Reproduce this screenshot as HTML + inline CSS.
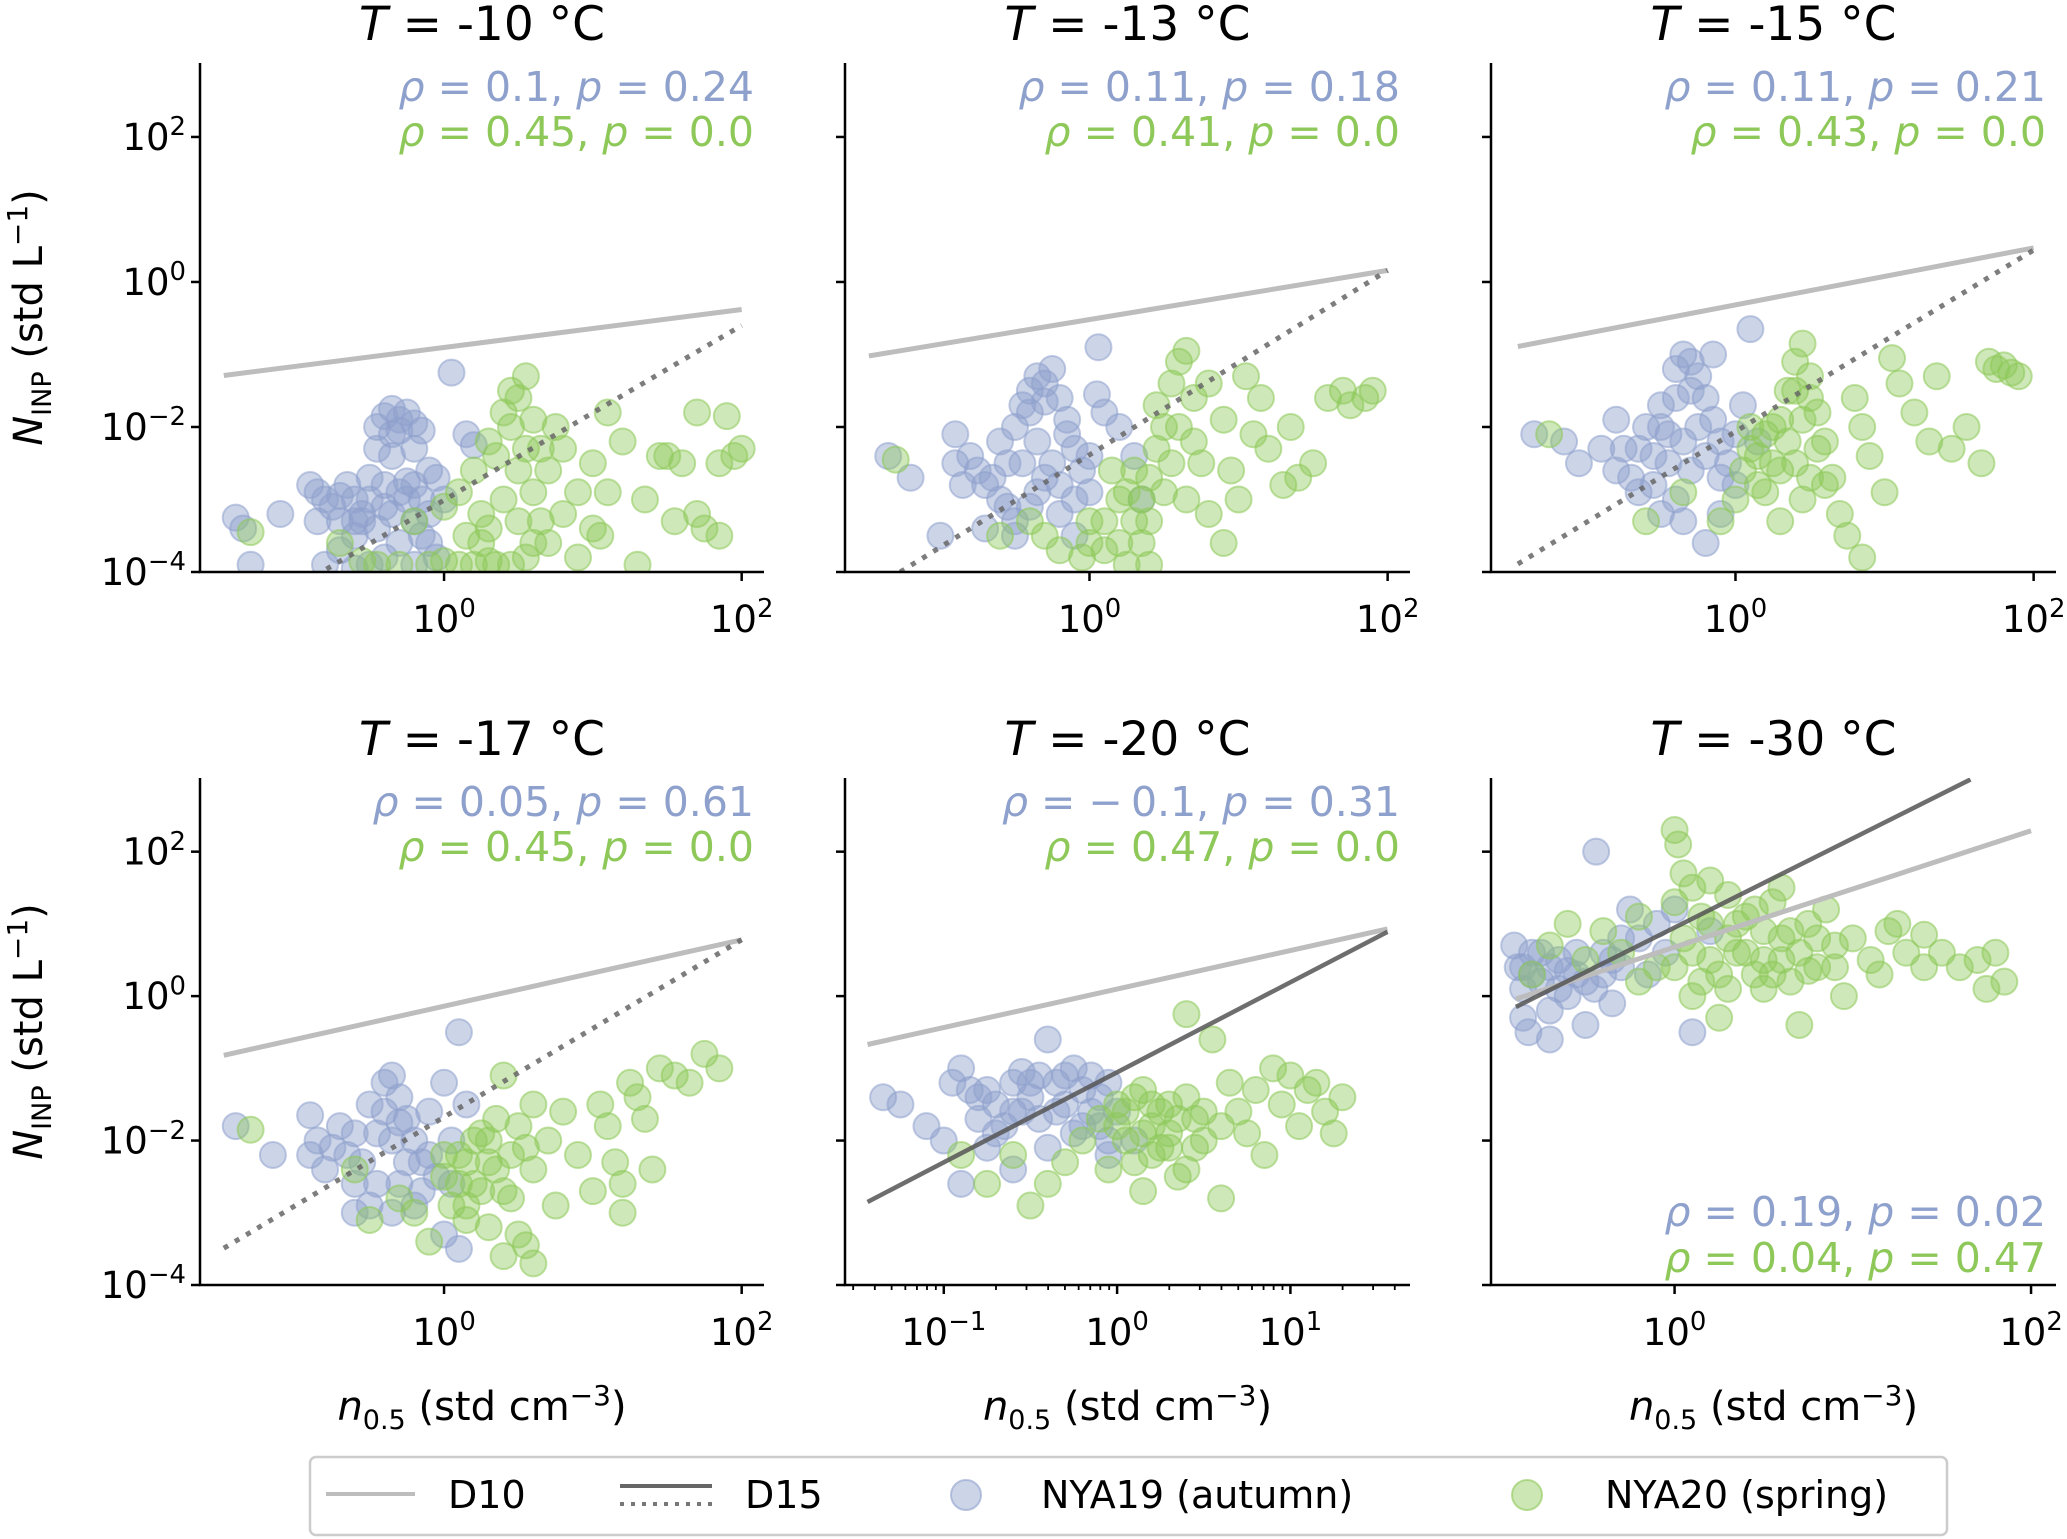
<!DOCTYPE html>
<html><head><meta charset="utf-8"><style>
html,body{margin:0;padding:0;background:#fff;}
svg{display:block;font-family:"DejaVu Sans","Liberation Sans",sans-serif;}
</style></head><body>
<svg id="chart" width="2067" height="1539" viewBox="0 0 2067 1539" xmlns="http://www.w3.org/2000/svg">
<defs>
<clipPath id="c0"><rect x="200" y="63" width="564" height="509"/></clipPath>
<clipPath id="c1"><rect x="845" y="63" width="565" height="509"/></clipPath>
<clipPath id="c2"><rect x="1491" y="63" width="565" height="509"/></clipPath>
<clipPath id="c3"><rect x="200" y="778" width="564" height="507"/></clipPath>
<clipPath id="c4"><rect x="845" y="778" width="565" height="507"/></clipPath>
<clipPath id="c5"><rect x="1491" y="778" width="565" height="507"/></clipPath>
</defs>
<g id="root"></g>
<g>
<rect x="310" y="1457" width="1637" height="78" rx="6" fill="#fff" stroke="#ccc" stroke-width="2.5"/>
<line x1="326" y1="1494" x2="415" y2="1494" stroke="#bdbdbd" stroke-width="4"/>
<text x="448" y="1508" font-size="38">D10</text>
<line x1="620" y1="1486" x2="712" y2="1486" stroke="#666" stroke-width="4"/>
<line x1="620" y1="1504" x2="712" y2="1504" stroke="#777" stroke-width="4" stroke-dasharray="4,7"/>
<text x="745" y="1508" font-size="38">D15</text>
<circle cx="966" cy="1495" r="15" fill="#8ea0cc" fill-opacity="0.45" stroke="#8ea0cc" stroke-opacity="0.6" stroke-width="2"/>
<text x="1041" y="1508" font-size="38">NYA19 (autumn)</text>
<circle cx="1527" cy="1495" r="15" fill="#8dc858" fill-opacity="0.45" stroke="#8dc858" stroke-opacity="0.6" stroke-width="2"/>
<text x="1605" y="1508" font-size="38">NYA20 (spring)</text>
</g>
</svg>
<script>
// ---- data (log10 units) ----
const temps = ["-10","-13","-15","-17","-20","-30"];
const rhoBlue = ["0.1","0.11","0.11","0.05","\u2212\u20090.1","0.19"];
const pBlue = ["0.24","0.18","0.21","0.61","0.31","0.02"];
const rhoGreen = ["0.45","0.41","0.43","0.45","0.47","0.04"];
const pGreen = ["0.0","0.0","0.0","0.0","0.0","0.47"];
const d10 = [[-1.48,-1.29,2,-0.38],[-1.48,-1.02,2,0.16],[-1.46,-0.89,2,0.47],[-1.48,-0.82,2,0.78],[-1.44,-0.67,1.56,0.93],[-0.89,-0.04,2,2.29]];
const d15 = [[-0.79,-3.96,2,-0.6],[-1.27,-4.0,2,0.16],[-1.46,-3.89,2,0.44],[-1.48,-3.49,2,0.78],[-1.44,-2.85,1.56,0.89],[-0.89,-0.15,1.66,3.0]];
const d15Dotted = [true,true,true,true,false,false];
const blue1=[[-1.4,-3.25],[-1.35,-3.4],[-1.1,-3.2],[-1.3,-3.9],[-0.85,-2.9],[-0.8,-3.0],[-0.75,-3.1],[-0.7,-2.95],[-0.6,-3.0],[-0.55,-3.2],[-0.5,-2.7],[-0.45,-2.0],[-0.4,-1.85],[-0.35,-2.1],[-0.3,-1.9],[-0.25,-1.8],[-0.2,-2.3],[-0.15,-2.05],[-0.1,-2.6],[-0.3,-2.9],[-0.4,-3.1],[-0.2,-3.3],[-0.6,-3.5],[-0.7,-3.7],[-0.5,-3.9],[-0.3,-3.6],[-0.1,-3.2],[0,-3.0],[-0.05,-3.8],[0.15,-2.1],[0.2,-2.25],[0.05,-1.25],[-0.8,-3.9],[-0.6,-3.95],[-0.35,-2.4],[-0.25,-2.75],[-0.55,-3.3],[-0.15,-3.5],
[-0.9,-2.8],[-0.85,-3.3],[-0.65,-2.8],[-0.6,-3.3],[-0.5,-3.0],[-0.45,-3.4],[-0.4,-2.8],[-0.35,-3.2],[-0.25,-3.0],[-0.2,-2.8],[-0.15,-3.0],[-0.05,-2.7],[-0.1,-3.6],[-0.4,-3.8],[-0.2,-3.9],[-0.7,-3.3],[-0.3,-2.05],[-0.2,-1.95],[-0.35,-1.75],[-0.45,-2.3]];
const green1=[[-1.3,-3.45],[-0.7,-3.6],[-0.55,-3.85],[-0.45,-3.9],[-0.3,-3.9],[-0.1,-3.9],[0,-3.85],[0.1,-3.9],[0.2,-3.9],[0.3,-3.85],[0.35,-3.9],[0.45,-3.9],[0.55,-3.8],[-0.2,-3.3],[0,-3.1],[0.1,-2.9],[0.2,-2.6],[0.3,-3.4],[0.35,-2.4],[0.4,-1.8],[0.45,-1.5],[0.5,-1.6],[0.55,-2.3],[0.6,-2.9],[0.7,-3.6],[0.75,-2.0],[0.8,-3.2],[0.9,-3.8],[1.0,-2.5],[1.05,-3.5],[1.1,-1.8],[1.2,-2.2],[1.3,-3.9],[1.35,-3.0],[1.45,-2.4],[1.5,-2.4],[1.6,-2.5],[1.55,-3.3],[1.7,-3.2],[1.75,-3.4],[1.85,-3.5],[1.9,-1.85],[1.85,-2.5],[1.95,-2.4],[1.7,-1.8],[2.0,-2.3],[0.25,-3.6],[0.65,-3.3],
[0.4,-3.0],[0.5,-3.3],[0.6,-3.6],[0.3,-2.2],[0.45,-2.0],[0.55,-1.3],[0.6,-1.9],[0.7,-2.6],[0.25,-3.2],[0.15,-3.5],[0.8,-2.3],[0.9,-2.9],[1.0,-3.4],[1.1,-2.9],[0.5,-2.6],[0.65,-2.3]];
const blue2=[[-1.35,-2.4],[-1.2,-2.7],[-1.0,-3.5],[-0.9,-2.1],[-0.8,-2.4],[-0.75,-2.6],[-0.7,-2.8],[-0.6,-2.2],[-0.55,-2.5],[-0.5,-2.0],[-0.45,-1.7],[-0.4,-1.5],[-0.35,-1.3],[-0.3,-1.4],[-0.25,-1.2],[-0.2,-1.6],[-0.15,-1.9],[-0.1,-2.3],[-0.05,-2.6],[0,-2.9],[-0.3,-2.7],[-0.4,-3.1],[-0.6,-3.0],[-0.7,-3.4],[-0.2,-3.2],[-0.1,-3.5],[0.05,-1.55],[0.1,-1.8],[0.2,-2.0],[0.06,-0.9],[0.3,-2.4],[0.35,-3.0],[-0.5,-3.3],
[-0.9,-2.5],[-0.85,-2.8],[-0.65,-2.7],[-0.55,-3.1],[-0.45,-2.5],[-0.35,-2.2],[-0.25,-2.5],[-0.2,-2.8],[-0.1,-3.0],[-0.4,-1.8],[-0.3,-1.65],[-0.35,-2.9],[-0.15,-2.1],[0,-2.4],[-0.5,-3.5]];
const green2=[[-1.3,-2.45],[-0.6,-3.5],[-0.3,-3.5],[-0.2,-3.7],[-0.05,-3.8],[0.1,-3.7],[0.2,-3.6],[0.3,-3.3],[0.35,-3.0],[0.4,-2.7],[0.45,-2.3],[0.5,-2.0],[0.55,-1.4],[0.6,-1.1],[0.65,-0.95],[0.7,-1.6],[0.75,-2.5],[0.8,-3.2],[0.9,-1.9],[0.95,-2.6],[1.0,-3.0],[1.05,-1.3],[1.1,-2.1],[1.15,-1.6],[1.2,-2.3],[1.3,-2.8],[1.35,-2.0],[1.4,-2.7],[1.5,-2.5],[1.6,-1.6],[1.7,-1.5],[1.75,-1.7],[1.85,-1.6],[1.9,-1.5],[0.25,-2.9],[0.4,-3.9],[0.15,-2.6],[-0.4,-3.3],[0.0,-3.3],[0.9,-3.6],
[0.1,-3.3],[0.2,-3.0],[0.3,-2.6],[0.4,-3.3],[0.5,-2.9],[0.55,-2.5],[0.6,-2.0],[0.65,-3.0],[0.35,-3.6],[0.7,-2.2],[0.8,-1.4],[0.0,-3.6],[0.25,-3.9],[0.45,-1.7]];
const blue3=[[-1.35,-2.1],[-1.15,-2.2],[-1.05,-2.5],[-0.8,-1.9],[-0.75,-2.3],[-0.7,-2.7],[-0.6,-2.0],[-0.55,-2.4],[-0.5,-1.7],[-0.45,-2.1],[-0.4,-1.2],[-0.35,-1.0],[-0.3,-1.1],[-0.25,-1.3],[-0.2,-1.6],[-0.15,-1.9],[-0.1,-2.2],[-0.05,-2.5],[0,-2.8],[-0.3,-2.6],[-0.4,-3.0],[-0.5,-3.2],[-0.2,-3.6],[-0.15,-1.0],[0.05,-1.7],[0.1,-0.65],[0.15,-2.2],[-0.65,-2.9],[-0.1,-3.2],
[-0.9,-2.3],[-0.8,-2.6],[-0.65,-2.3],[-0.55,-2.8],[-0.45,-2.5],[-0.35,-2.2],[-0.25,-2.0],[-0.2,-2.4],[-0.3,-1.5],[-0.4,-1.6],[-0.5,-2.0],[-0.1,-2.7],[-0.35,-3.3],[0,-2.1]];
const green3=[[-1.25,-2.1],[-0.6,-3.3],[-0.35,-2.9],[-0.1,-3.3],[0,-3.0],[0.05,-2.6],[0.1,-2.3],[0.15,-2.8],[0.2,-2.1],[0.25,-2.5],[0.3,-1.9],[0.35,-1.5],[0.4,-1.1],[0.45,-0.85],[0.5,-1.3],[0.55,-1.8],[0.6,-2.2],[0.65,-2.7],[0.7,-3.2],[0.75,-3.5],[0.8,-1.6],[0.85,-2.0],[0.9,-2.4],[1.0,-2.9],[1.1,-1.4],[1.2,-1.8],[1.3,-2.2],[1.35,-1.3],[1.45,-2.3],[1.55,-2.0],[1.65,-2.5],[1.7,-1.1],[1.75,-1.2],[1.8,-1.15],[1.85,-1.25],[1.9,-1.3],[0.85,-3.8],[0.3,-3.3],[1.05,-1.05],[0.45,-3.0],
[0.15,-2.4],[0.25,-2.0],[0.3,-2.6],[0.35,-2.2],[0.4,-2.5],[0.45,-1.9],[0.5,-2.7],[0.55,-2.3],[0.6,-2.8],[0.4,-1.5],[0.2,-2.9],[0.1,-2.0],[0.5,-1.6]];
const blue4=[[-1.4,-1.8],[-1.15,-2.2],[-0.9,-1.65],[-0.85,-2.0],[-0.8,-2.4],[-0.7,-1.8],[-0.65,-2.2],[-0.6,-2.6],[-0.5,-1.5],[-0.45,-1.9],[-0.4,-1.2],[-0.35,-1.1],[-0.3,-1.4],[-0.25,-1.7],[-0.2,-2.0],[-0.15,-2.3],[-0.1,-1.6],[-0.05,-2.5],[0,-1.2],[0.05,-2.0],[0.1,-0.5],[0.15,-1.5],[-0.3,-2.6],[-0.5,-2.9],[-0.6,-3.0],[0.0,-3.3],[0.1,-3.5],[-0.2,-2.9],
[-0.9,-2.2],[-0.75,-2.1],[-0.55,-2.3],[-0.45,-2.6],[-0.35,-2.0],[-0.25,-2.3],[-0.1,-2.2],[-0.4,-1.6],[-0.3,-1.75],[-0.6,-1.9],[-0.15,-2.7],[0.05,-2.6],[-0.35,-3.0]];
const green4=[[-1.3,-1.85],[-0.5,-3.1],[-0.3,-2.8],[-0.2,-3.0],[-0.1,-3.4],[0,-2.5],[0.05,-2.9],[0.1,-2.2],[0.15,-3.1],[0.2,-2.6],[0.25,-1.9],[0.3,-2.3],[0.35,-1.7],[0.4,-1.1],[0.45,-2.8],[0.5,-3.3],[0.55,-3.45],[0.6,-2.4],[0.7,-2.0],[0.8,-1.6],[0.9,-2.2],[1.0,-2.7],[1.05,-1.5],[1.1,-1.8],[1.15,-2.3],[1.2,-2.6],[1.25,-1.2],[1.3,-1.4],[1.35,-1.7],[1.4,-2.4],[1.45,-1.0],[1.55,-1.1],[1.65,-1.2],[1.75,-0.8],[1.85,-1.0],[0.4,-3.6],[-0.6,-2.4],[0.75,-2.9],[1.2,-3.0],[0.6,-3.7],
[0,-2.2],[0.1,-2.6],[0.15,-2.3],[0.2,-2.0],[0.25,-2.7],[0.3,-2.0],[0.35,-2.4],[0.4,-2.7],[0.45,-2.2],[0.5,-1.8],[0.15,-2.9],[0.3,-3.2],[0.55,-2.1],[0.6,-1.5]];
const blue5=[[-1.35,-1.4],[-1.25,-1.5],[-1.1,-1.8],[-1.0,-2.0],[-0.95,-1.2],[-0.9,-1.0],[-0.85,-1.3],[-0.8,-1.7],[-0.75,-2.1],[-0.7,-1.5],[-0.65,-1.8],[-0.6,-1.2],[-0.55,-1.05],[-0.5,-1.4],[-0.45,-1.7],[-0.4,-0.6],[-0.35,-1.2],[-0.3,-1.5],[-0.25,-1.0],[-0.2,-1.8],[-0.15,-1.1],[-0.1,-1.4],[-0.05,-2.2],[0,-1.6],[-0.6,-2.4],[-0.9,-2.6],[-0.4,-2.1],[-0.05,-2.0],[0.1,-2.0],
[-0.8,-1.4],[-0.75,-1.3],[-0.7,-1.9],[-0.55,-1.6],[-0.5,-1.2],[-0.45,-1.1],[-0.35,-1.6],[-0.3,-1.1],[-0.2,-1.3],[-0.15,-1.6],[-0.1,-1.8],[-0.05,-1.2],[-0.25,-1.9],[-0.6,-1.6]];
const green5=[[-0.9,-2.2],[-0.75,-2.6],[-0.6,-2.2],[-0.5,-2.9],[-0.4,-2.6],[-0.3,-2.3],[-0.2,-2.0],[-0.1,-1.7],[0,-1.5],[0.05,-2.0],[0.1,-2.3],[0.15,-1.3],[0.2,-1.8],[0.25,-2.1],[0.3,-1.5],[0.35,-2.5],[0.4,-0.25],[0.45,-1.7],[0.5,-2.0],[0.55,-0.6],[0.6,-2.8],[0.65,-1.2],[0.7,-1.6],[0.75,-1.9],[0.8,-1.3],[0.85,-2.2],[0.9,-1.0],[0.95,-1.5],[1.0,-1.1],[1.05,-1.8],[1.1,-1.3],[1.15,-1.2],[1.2,-1.6],[1.25,-1.9],[1.3,-1.4],[-0.05,-2.4],[0.4,-2.4],[0.15,-2.7],
[0,-1.8],[0.05,-1.6],[0.1,-1.4],[0.15,-1.9],[0.2,-1.5],[0.25,-1.6],[0.3,-1.9],[0.35,-1.7],[0.4,-1.4],[0.45,-2.1],[0.5,-1.6],[0.2,-2.2],[0.3,-2.1],[0.6,-1.8]];
const blue6=[[-0.9,0.7],[-0.88,0.4],[-0.85,0.1],[-0.85,-0.3],[-0.82,-0.5],[-0.8,0.6],[-0.75,0.2],[-0.7,-0.2],[-0.65,0.5],[-0.6,0.0],[-0.55,0.3],[-0.5,-0.4],[-0.45,0.1],[-0.44,2.0],[-0.4,0.6],[-0.35,-0.1],[-0.3,0.4],[-0.25,1.2],[-0.2,0.8],[-0.15,0.3],[-0.1,1.0],[-0.05,0.6],[0,1.2],[0.1,-0.5],[-0.7,-0.6],[0.2,0.9],
[-0.85,0.4],[-0.8,0.3],[-0.75,0.6],[-0.7,0.4],[-0.65,0.1],[-0.55,0.6],[-0.5,0.2],[-0.4,0.3],[-0.35,0.5],[-0.3,0.8],[-0.6,0.35]];
const green6=[[-0.8,0.3],[-0.7,0.7],[-0.6,1.0],[-0.5,0.5],[-0.4,0.9],[-0.3,0.6],[-0.2,1.1],[-0.1,0.4],[0,1.3],[0,2.3],[0.02,2.1],[0.05,0.8],[0.1,1.5],[0.15,0.2],[0.2,1.0],[0.25,-0.3],[0.3,1.4],[0.35,0.6],[0.4,1.1],[0.45,0.3],[0.5,0.9],[0.55,1.3],[0.6,0.5],[0.65,0.9],[0.7,-0.4],[0.75,1.0],[0.8,0.4],[0.85,1.2],[0.9,0.7],[0.95,0.0],[1.0,0.8],[1.1,0.5],[1.15,0.3],[1.2,0.9],[1.3,0.6],[1.4,0.4],[1.5,0.6],[1.6,0.4],[1.7,0.5],[1.75,0.1],[1.8,0.6],[1.85,0.2],[1.4,0.85],[1.25,1.0],[0.3,0.1],[0.1,0.0],[0.5,0.1],[-0.2,0.2],
[0.1,0.6],[0.2,0.5],[0.3,0.8],[0.4,0.6],[0.5,0.5],[0.6,0.8],[0.7,0.6],[0.8,0.8],[0.35,1.0],[0.55,0.3],[0.65,0.2],[0.45,1.2],[0.75,0.35],[0.25,0.3],[0.15,1.1],[0.9,0.4],[0.05,1.7],[0.2,1.6],[0.6,1.5],[0.0,0.4]];
const blueSets=[blue1,blue2,blue3,blue4,blue5,blue6];
const greenSets=[green1,green2,green3,green4,green5,green6];
const xLims=[[-1.64,2.15],[-1.64,2.15],[-1.64,2.15],[-1.64,2.15],[-1.57,1.69],[-1.03,2.14]];
const xTickSets=[[0,2],[0,2],[0,2],[0,2],[-1,0,1],[0,2]];
const yTicks=[-4,-2,0,2];
const yLim=[-4,3.02];

const NS="http://www.w3.org/2000/svg";
const root=document.getElementById('root');
const BLUE="#8ea0cc", GREEN="#8dc858";
const boxes=[[200,63,764,572],[845,63,1410,572],[1491,63,2056,572],[200,778,764,1285],[845,778,1410,1285],[1491,778,2056,1285]];
function mk(tag,attrs,parent){const e=document.createElementNS(NS,tag);for(const k in attrs)e.setAttribute(k,attrs[k]);(parent||root).appendChild(e);return e;}
function sup(t,base,exp,fs){const s1=document.createElementNS(NS,'tspan');s1.textContent=base;t.appendChild(s1);const s2=document.createElementNS(NS,'tspan');s2.setAttribute('dy',-fs*0.4);s2.setAttribute('font-size',fs*0.7);s2.textContent=exp;t.appendChild(s2);}

boxes.forEach((b,i)=>{
  const [L,T,R,B]=b;
  const g=mk('g',{});
  
  
  const xs=lx=>L+(lx-xLims[i][0])/(xLims[i][1]-xLims[i][0])*(R-L);
  const ys=ly=>B-(ly-yLim[0])/(yLim[1]-yLim[0])*(B-T);
  const tt=mk('text',{x:(L+R)/2,y:T-23,'font-size':47,'text-anchor':'middle'},g);
  
  
  tt.innerHTML='<tspan font-style="italic">T</tspan> = '+temps[i]+' °C';
  const pg=mk('g',{'clip-path':'url(#c'+i+')'},g);
  blueSets[i].forEach(p=>{const c=mk('circle',{cx:xs(p[0]),cy:ys(p[1]),r:13,fill:BLUE,'fill-opacity':0.45,stroke:BLUE,'stroke-opacity':0.55,'stroke-width':2},pg);
    
    });
  greenSets[i].forEach(p=>{const c=mk('circle',{cx:xs(p[0]),cy:ys(p[1]),r:13,fill:GREEN,'fill-opacity':0.42,stroke:GREEN,'stroke-opacity':0.55,'stroke-width':2},pg);
    
    });
  const a=d10[i];
  const l1=mk('line',{x1:xs(a[0]),y1:ys(a[1]),x2:xs(a[2]),y2:ys(a[3]),stroke:'#bdbdbd','stroke-width':5},pg);
  
  
  const d=d15[i];
  const l2=mk('line',{x1:xs(d[0]),y1:ys(d[1]),x2:xs(d[2]),y2:ys(d[3]),stroke:d15Dotted[i]?'#666':'#555','stroke-width':d15Dotted[i]?5:4.5,'stroke-opacity':0.85},pg);
  if(d15Dotted[i])l2.setAttribute('stroke-dasharray','5,8');
  
  
  const sp=mk('path',{d:`M${L},${T}V${B}H${R}`,fill:'none',stroke:'#000','stroke-width':2.5},g);
  
  
  yTicks.forEach(v=>{const y=ys(v);mk('line',{x1:L-9,y1:y,x2:L,y2:y,stroke:'#000','stroke-width':2.5},g);
    if(i%3===0){const t=mk('text',{x:L-14,y:y+13,'font-size':37,'text-anchor':'end'},g);
      
      
      sup(t,'10',v<0?'\u2212'+(-v):String(v),37);}});
  xTickSets[i].forEach(v=>{const x=xs(v);mk('line',{x1:x,y1:B,x2:x,y2:B+9,stroke:'#000','stroke-width':2.5},g);
    const t=mk('text',{x:x,y:B+60,'font-size':37,'text-anchor':'middle'},g);
    
    
    sup(t,'10',v<0?'\u2212'+(-v):String(v),37);});
  if(i===4){for(let dec=-2;dec<=1;dec++){for(let m=2;m<=9;m++){const lv=dec+Math.log10(m);if(lv<xLims[i][0]||lv>xLims[i][1])continue;const x=xs(lv);mk('line',{x1:x,y1:B,x2:x,y2:B+5,stroke:'#000','stroke-width':1.8},g);}}}
  const bottom=(i===5);
  const ay1=bottom?1226:T+38, ay2=bottom?1272:T+83;
  const ax=R-10;
  const t1=mk('text',{x:ax,y:ay1,'font-size':41,'text-anchor':'end',fill:BLUE},g);
  
  
  t1.innerHTML='<tspan font-style="italic">ρ</tspan> = '+rhoBlue[i]+', <tspan font-style="italic">p</tspan> = '+pBlue[i];
  const t2=mk('text',{x:ax,y:ay2,'font-size':41,'text-anchor':'end',fill:GREEN},g);
  
  
  t2.innerHTML='<tspan font-style="italic">ρ</tspan> = '+rhoGreen[i]+', <tspan font-style="italic">p</tspan> = '+pGreen[i];
  if(i%3===0){const cy=(T+B)/2;const yl=mk('text',{x:0,y:0,'font-size':40,'text-anchor':'middle',transform:`translate(42,${cy}) rotate(-90)`},g);
    
    
    yl.innerHTML='<tspan font-style="italic">N</tspan><tspan font-size="27" dy="9">INP</tspan><tspan dy="-9"> (std L</tspan><tspan font-size="28" dy="-15">−1</tspan><tspan dy="15">)</tspan>';}
  if(i>=3){const xl=mk('text',{x:(L+R)/2,y:1420,'font-size':40,'text-anchor':'middle'},g);
    
    
    xl.innerHTML='<tspan font-style="italic">n</tspan><tspan font-size="27" dy="9">0.5</tspan><tspan dy="-9"> (std cm</tspan><tspan font-size="28" dy="-15">−3</tspan><tspan dy="15">)</tspan>';}
});
</script>
</body></html>
